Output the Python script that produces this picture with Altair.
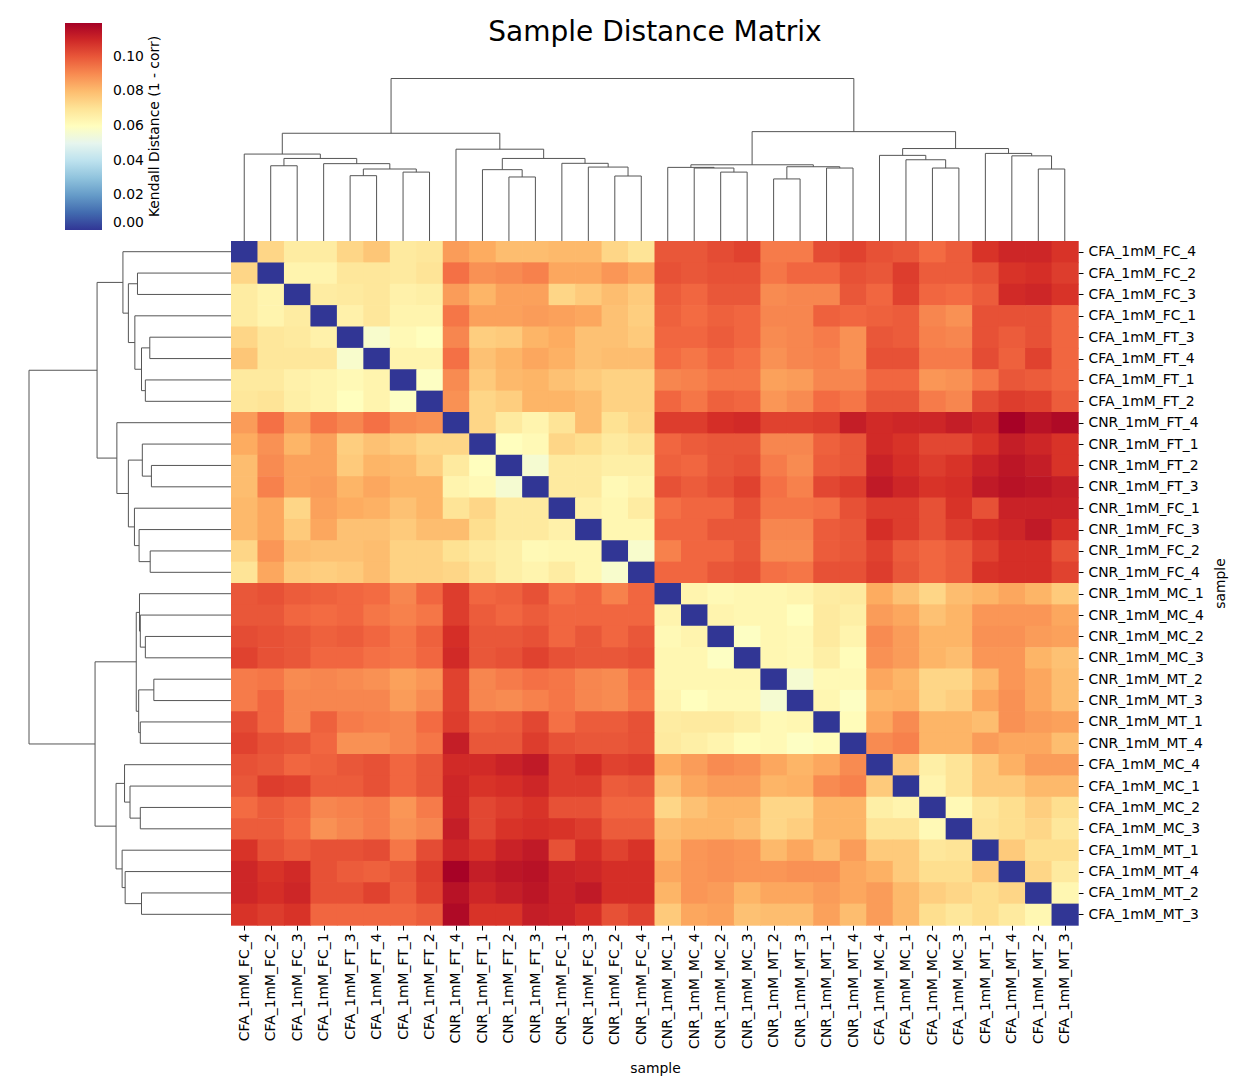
import altair as alt
import pandas as pd

samples = [
    "CFA_1mM_FC_4", "CFA_1mM_FC_2", "CFA_1mM_FC_3", "CFA_1mM_FC_1",
    "CFA_1mM_FT_3", "CFA_1mM_FT_4", "CFA_1mM_FT_1", "CFA_1mM_FT_2",
    "CNR_1mM_FT_4", "CNR_1mM_FT_1", "CNR_1mM_FT_2", "CNR_1mM_FT_3",
    "CNR_1mM_FC_1", "CNR_1mM_FC_3", "CNR_1mM_FC_2", "CNR_1mM_FC_4",
    "CNR_1mM_MC_1", "CNR_1mM_MC_4", "CNR_1mM_MC_2", "CNR_1mM_MC_3",
    "CNR_1mM_MT_2", "CNR_1mM_MT_3", "CNR_1mM_MT_1", "CNR_1mM_MT_4",
    "CFA_1mM_MC_4", "CFA_1mM_MC_1", "CFA_1mM_MC_2", "CFA_1mM_MC_3",
    "CFA_1mM_MT_1", "CFA_1mM_MT_4", "CFA_1mM_MT_2", "CFA_1mM_MT_3",
]

# Upper triangle of the distance matrix: row i holds columns i+1 .. 31
r00 = [.074, .067, .067, .074, .078, .068, .069, .087, .084, .080, .080, .081, .081, .074, .070,
       .100, .100, .102, .104, .093, .093, .102, .104, .101, .100, .096, .099, .107, .110, .110, .107]
r01 = [.064, .064, .069, .069, .068, .070, .095, .089, .090, .092, .085, .085, .088, .085,
       .101, .100, .101, .101, .094, .097, .097, .101, .100, .105, .099, .099, .101, .107, .108, .105]
r02 = [.067, .068, .069, .065, .066, .087, .082, .086, .086, .074, .077, .080, .077,
       .099, .097, .100, .100, .090, .091, .091, .100, .097, .104, .097, .096, .099, .109, .110, .107]
r03 = [.065, .069, .064, .064, .094, .086, .086, .087, .086, .085, .079, .076,
       .098, .096, .098, .097, .091, .091, .098, .097, .098, .099, .091, .089, .101, .101, .101, .097]
r04 = [.057, .062, .060, .091, .076, .077, .082, .084, .079, .079, .077,
       .097, .097, .099, .097, .090, .091, .093, .089, .100, .099, .092, .091, .101, .099, .101, .097]
r05 = [.064, .064, .095, .079, .082, .085, .083, .079, .080, .080,
       .096, .094, .097, .095, .089, .091, .092, .089, .101, .101, .093, .093, .102, .098, .104, .097]
r06 = [.059, .090, .077, .081, .082, .079, .077, .075, .075,
       .091, .092, .094, .094, .086, .087, .091, .091, .097, .097, .088, .089, .094, .100, .099, .097]
r07 = [.089, .074, .076, .082, .082, .080, .075, .075,
       .097, .094, .098, .097, .088, .090, .096, .094, .100, .100, .093, .091, .102, .105, .104, .099]
r08 = [.074, .068, .064, .070, .080, .071, .074,
       .105, .105, .108, .109, .104, .104, .105, .112, .109, .110, .110, .112, .110, .119, .115, .117]
r09 = [.060, .062, .074, .072, .068, .070,
       .097, .099, .100, .100, .091, .091, .098, .100, .109, .107, .103, .103, .107, .112, .110, .107]
r10 = [.056, .068, .068, .066, .066,
       .098, .097, .100, .101, .093, .090, .099, .100, .111, .108, .105, .107, .111, .114, .112, .107]
r11 = [.068, .068, .062, .064,
       .101, .099, .101, .104, .095, .092, .103, .105, .113, .110, .107, .108, .113, .115, .114, .112]
r12 = [.065, .063, .067,
       .095, .097, .097, .101, .094, .094, .095, .101, .105, .105, .101, .107, .101, .111, .111, .111]
r13 = [.063, .063,
       .097, .097, .100, .100, .091, .091, .099, .100, .108, .105, .101, .105, .108, .110, .113, .108]
r14 = [.057,
       .092, .097, .097, .100, .090, .090, .099, .100, .104, .099, .097, .099, .104, .108, .108, .101]
r15 = [.097, .097, .100, .101, .095, .094, .101, .101, .105, .100, .097, .099, .107, .108, .108, .104]
r16 = [.064, .062, .063, .063, .064, .067, .068, .084, .079, .074, .080, .082, .085, .082, .077]
r17 = [.064, .063, .063, .060, .068, .066, .087, .085, .079, .082, .088, .088, .088, .085]
r18 = [.059, .063, .062, .068, .064, .090, .087, .082, .082, .089, .089, .087, .086]
r19 = [.063, .062, .066, .061, .089, .087, .082, .080, .088, .088, .082, .079]
r20 = [.056, .062, .062, .085, .082, .074, .074, .081, .088, .085, .080]
r21 = [.063, .059, .082, .083, .074, .076, .085, .089, .085, .080]
r22 = [.061, .085, .090, .082, .082, .080, .089, .087, .086]
r23 = [.090, .092, .082, .082, .087, .085, .085, .080]
r24 = [.077, .066, .070, .077, .083, .087, .087]
r25 = [.064, .070, .077, .077, .081, .081]
r26 = [.062, .069, .072, .076, .072]
r27 = [.070, .072, .074, .069]
r28 = [.077, .072, .072]
r29 = [.074, .068]
r30 = [.063]

upper = [r00, r01, r02, r03, r04, r05, r06, r07, r08, r09, r10, r11, r12, r13, r14, r15,
         r16, r17, r18, r19, r20, r21, r22, r23, r24, r25, r26, r27, r28, r29, r30]

# Hierarchical clustering merges (left, right, relative height); new clusters numbered 32, 33, ...
merges = [
    (1, 2, .463), (4, 5, .402), (6, 7, .424), (33, 34, .443), (3, 35, .476),
    (32, 36, .508), (0, 37, .535),
    (10, 11, .394), (9, 39, .439), (14, 15, .400), (13, 41, .455), (12, 42, .478),
    (40, 43, .508), (8, 44, .565), (38, 45, .663),
    (18, 19, .424), (17, 47, .449), (16, 48, .453), (20, 21, .382), (22, 23, .449),
    (50, 51, .457), (49, 52, .469),
    (26, 27, .449), (25, 54, .500), (24, 55, .527), (30, 31, .443), (29, 57, .524),
    (28, 58, .539), (56, 59, .569), (53, 60, .673), (46, 61, 1.0),
]

VMAX = 0.1195
cbar_title = ["Kendall Distance (1 - corr)"]
cbar_ticks = [0.0, 0.02, 0.04, 0.06, 0.08, 0.10]
rdylbu_r = ["#313695", "#4575b4", "#74add1", "#abd9e9", "#e0f3f8", "#ffffbf",
            "#fee090", "#fdae61", "#f46d43", "#d73027", "#a50026"]

# ---- build tables ----
n = len(samples)
M = [[0.0] * n for _ in range(n)]
for i, row in enumerate(upper):
    assert len(row) == n - 1 - i, (i, len(row))
    for k, v in enumerate(row):
        j = i + 1 + k
        M[i][j] = v
        M[j][i] = v

cells = pd.DataFrame([
    {"r0": i, "r1": i + 1, "c0": j, "c1": j + 1, "v": M[i][j],
     "row": samples[i], "col": samples[j]}
    for i in range(n) for j in range(n)
])

pos = {i: i + 0.5 for i in range(n)}
hgt = {i: 0.0 for i in range(n)}
segs = []
for k, (a, b, h) in enumerate(merges):
    segs.append((pos[a], hgt[a], pos[a], h))
    segs.append((pos[b], hgt[b], pos[b], h))
    segs.append((pos[a], h, pos[b], h))
    pos[n + k] = (pos[a] + pos[b]) / 2
    hgt[n + k] = h

# layout in data units
XMIN = (20 - 231) / (847 / 32)
YMIN = (8 - 241) / (684 / 32)
KL = (231 - 29) / (847 / 32)
KT = (241 - 78.5) / (684 / 32)

top_df = pd.DataFrame([{"x": p1, "x2": p2, "y": -h1 * KT, "y2": -h2 * KT} for p1, h1, p2, h2 in segs])
left_df = pd.DataFrame([{"y": p1, "y2": p2, "x": -h1 * KL, "x2": -h2 * KL} for p1, h1, p2, h2 in segs])

xscale = alt.Scale(domain=[XMIN, 32], nice=False, zero=False)
yscale = alt.Scale(domain=[YMIN, 32], nice=False, zero=False, reverse=True)
cscale = alt.Scale(domain=[VMAX * i / 10 for i in range(11)], range=rdylbu_r, interpolate="rgb")

label_arr = "[" + ",".join("'%s'" % s for s in samples) + "]"
ticks = [i + 0.5 for i in range(n)]
FS = 13.9

xaxis = alt.Axis(orient="bottom", values=ticks, labelExpr=label_arr + "[floor(datum.value)]",
                 labelAngle=270, labelOverlap=False, tickSize=5, labelPadding=3,
                 domain=False, grid=False, labelFontSize=FS, labelColor="black",
                 tickColor="black", title="sample", titleFontSize=FS, titleFontWeight="normal",
                 titleColor="black", titleX=635, titleY=143, titleBaseline="middle")
yaxis = alt.Axis(orient="right", values=ticks, labelExpr=label_arr + "[floor(datum.value)]",
                 labelOverlap=False, tickSize=5, labelPadding=5, domain=False, grid=False,
                 labelFontSize=FS, labelColor="black", tickColor="black", title="sample",
                 titleFontSize=FS, titleFontWeight="normal", titleColor="black",
                 titleAngle=270, titleX=142, titleY=575, titleBaseline="middle",
                 titleAlign="center")

legend = alt.Legend(orient="none", legendX=45, legendY=15, direction="vertical",
                    type="gradient", gradientLength=207, gradientThickness=37,
                    gradientStrokeWidth=0, values=cbar_ticks,
                    format=".2f", labelFontSize=FS, labelOffset=11, labelColor="black",
                    labelBaseline="middle", labelOverlap=False, title=None)

heat = alt.Chart(cells).mark_rect(x2Offset=0.7, y2Offset=0.7).encode(
    x=alt.X("c0:Q", scale=xscale, axis=xaxis),
    x2="c1:Q",
    y=alt.Y("r0:Q", scale=yscale, axis=yaxis),
    y2="r1:Q",
    color=alt.Color("v:Q", scale=cscale, legend=legend),
    tooltip=["row:N", "col:N", alt.Tooltip("v:Q", format=".3f")],
)

top_dendro = alt.Chart(top_df).mark_rule(color="#555555", strokeWidth=1).encode(
    x=alt.X("x:Q", scale=xscale, axis=xaxis), x2="x2:Q",
    y=alt.Y("y:Q", scale=yscale, axis=yaxis), y2="y2:Q",
)
left_dendro = alt.Chart(left_df).mark_rule(color="#555555", strokeWidth=1).encode(
    x=alt.X("x:Q", scale=xscale, axis=xaxis), x2="x2:Q",
    y=alt.Y("y:Q", scale=yscale, axis=yaxis), y2="y2:Q",
)

cbar_label = alt.Chart(pd.DataFrame({"t": cbar_title})).mark_text(
    angle=270, fontSize=FS, align="center", baseline="middle", color="black"
).encode(text="t:N", x=alt.value(135), y=alt.value(118.5))

chart = alt.layer(heat, top_dendro, left_dendro, cbar_label).properties(
    width=1058, height=917,
    padding={"left": 20, "top": 8, "right": 5, "bottom": 5},
    title=alt.TitleParams("Sample Distance Matrix", fontSize=28, fontWeight="normal",
                          anchor="middle", frame="group", dx=106, offset=-24, dy=29,
                          baseline="middle", color="black"),
).configure(font="DejaVu Sans").configure_view(stroke=None)

chart.save("out.html", embed_options={"renderer": "svg", "actions": False})
